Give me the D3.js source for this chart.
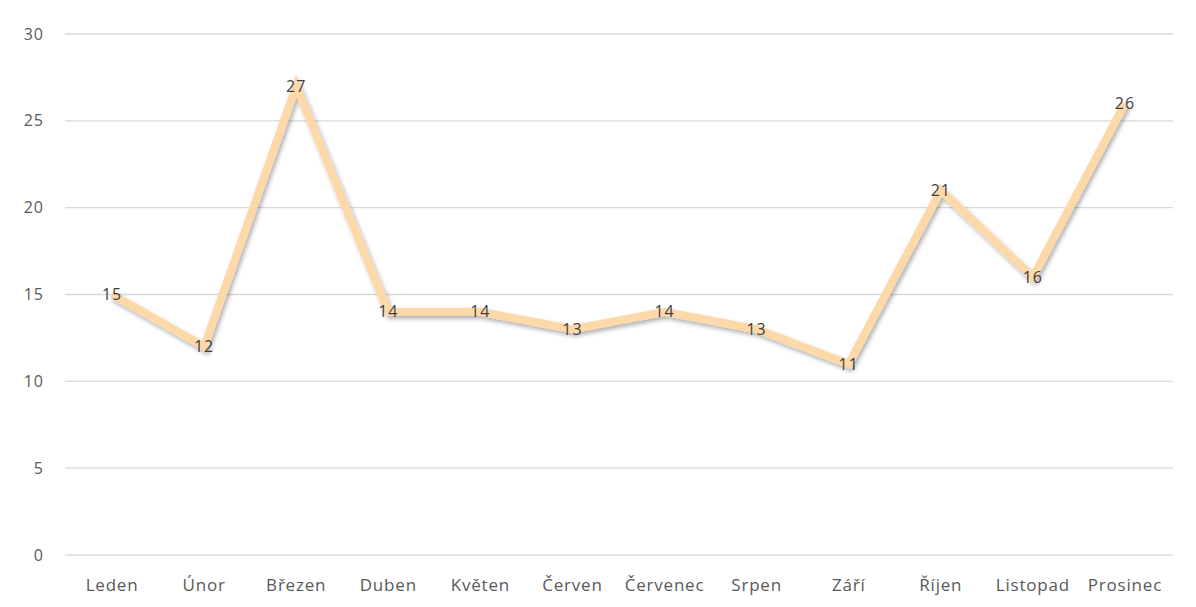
<!DOCTYPE html>
<html>
<head>
<meta charset="utf-8">
<script src="https://cdn.jsdelivr.net/npm/d3@7"></script>
<style>
  body { margin: 0; background: #fff; }
  svg { display: block; font-family: "Open Sans", "Noto Sans", sans-serif; }
</style>
</head>
<body>
<svg id="chart" width="1196" height="607"></svg>
<script>
const months = ["Leden", "Únor", "Březen", "Duben", "Květen", "Červen",
  "Červenec", "Srpen", "Září", "Říjen", "Listopad", "Prosinec"]
const values = [15, 12, 27, 14, 14, 13, 14, 13, 11, 21, 16, 26]
const yTicks = [0, 5, 10, 15, 20, 25, 30]

const svg = d3.select('#chart')
const plotLeft = 66, plotRight = 1171, plotTop = 34, plotBottom = 555

const x = d3.scaleBand()
  .domain(months)
  .range([plotLeft, plotRight])

const y = d3.scaleLinear()
  .domain([0, 30])
  .range([plotBottom, plotTop])

// shadow under the line
const defs = svg.append('defs')
defs.append('filter')
  .attr('id', 'shadow')
  .attr('x', '-10%').attr('y', '-10%')
  .attr('width', '120%').attr('height', '120%')
  .append('feDropShadow')
  .attr('dx', 2).attr('dy', 3)
  .attr('stdDeviation', 2)
  .attr('flood-color', '#000')
  .attr('flood-opacity', 0.3)

// gridlines
svg.append('g')
  .selectAll('line')
  .data(yTicks)
  .enter().append('line')
  .attr('x1', plotLeft - 1)
  .attr('x2', plotRight + 2)
  .attr('y1', d => y(d))
  .attr('y2', d => y(d))
  .attr('stroke', '#d9d9d9')
  .attr('stroke-width', 1.3)

// y axis labels
svg.append('g')
  .selectAll('text')
  .data(yTicks)
  .enter().append('text')
  .attr('x', 44)
  .attr('y', d => y(d))
  .attr('dy', '0.35em')
  .attr('text-anchor', 'end')
  .attr('fill', '#595959')
  .attr('font-size', 16)
  .attr('letter-spacing', 1)
  .text(d => d)

// x axis labels
svg.append('g')
  .selectAll('text')
  .data(months)
  .enter().append('text')
  .attr('x', d => x(d) + x.bandwidth() / 2)
  .attr('y', 585)
  .attr('dy', '0.35em')
  .attr('text-anchor', 'middle')
  .attr('fill', '#595959')
  .attr('font-size', 17)
  .attr('letter-spacing', 0.8)
  .text(d => d)

// line
const line = d3.line()
  .x((d, i) => x(months[i]) + x.bandwidth() / 2)
  .y(d => y(d))

svg.append('path')
  .datum(values)
  .attr('d', line)
  .attr('fill', 'none')
  .attr('stroke', '#fdd8a8')
  .attr('stroke-width', 8)
  .attr('stroke-linejoin', 'miter')
  .attr('filter', 'url(#shadow)')

// data labels
svg.append('g')
  .selectAll('text')
  .data(values)
  .enter().append('text')
  .attr('x', (d, i) => x(months[i]) + x.bandwidth() / 2)
  .attr('y', d => y(d))
  .attr('dy', '0.35em')
  .attr('text-anchor', 'middle')
  .attr('fill', '#404040')
  .attr('font-size', 16)
  .attr('letter-spacing', 1)
  .text(d => d)
</script>
</body>
</html>
